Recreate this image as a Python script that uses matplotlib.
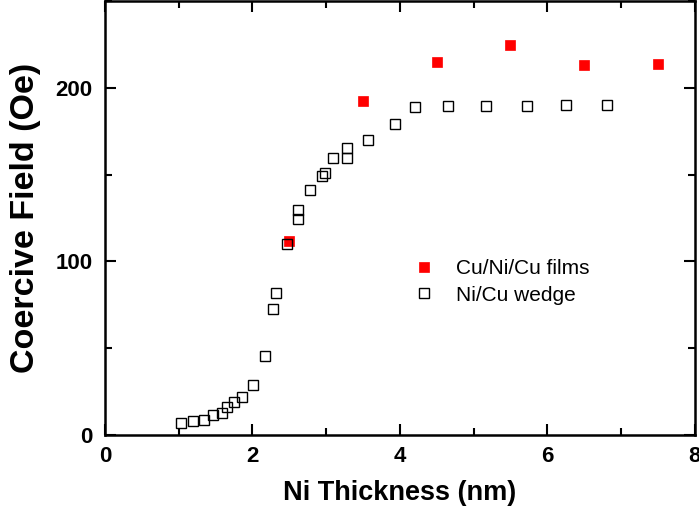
import matplotlib
matplotlib.use("Agg")
import matplotlib.pyplot as plt
from matplotlib.ticker import MultipleLocator

plt.rcParams['font.family'] = ['Liberation Sans', 'DejaVu Sans']

# Cu/Ni/Cu films (filled red squares)
films_x = [2.5, 3.5, 4.5, 5.5, 6.5, 7.5]
films_y = [111.9, 192.6, 214.6, 224.5, 213.0, 214.0]

# Ni/Cu wedge (open squares)
wedge_x = [1.03, 1.19, 1.345, 1.47, 1.585, 1.66, 1.745, 1.857, 2.01, 2.17,
           2.28, 2.32, 2.47, 2.62, 2.62, 2.78, 2.94, 2.98, 3.09, 3.28, 3.28,
           3.57, 3.93, 4.21, 4.65, 5.17, 5.73, 6.25, 6.81]
wedge_y = [6.9, 7.9, 8.8, 11.3, 12.6, 16.1, 18.8, 21.8, 28.7, 45.6,
           72.4, 81.6, 110.3, 124.5, 129.5, 141.4, 149.4, 150.7, 159.8, 165.5, 159.8,
           170.0, 179.3, 188.7, 189.3, 189.3, 189.3, 190.3, 190.3]

x_ticks = [0, 2, 4, 6, 8]
y_ticks = [0, 100, 200]

fig = plt.figure(figsize=(6.99, 5.13), dpi=100)
ax = fig.add_axes([0.150, 0.152, 0.844, 0.846])

ax.plot(films_x, films_y, linestyle='none', marker='s', markersize=6.5,
        markerfacecolor='#ff0000', markeredgecolor='#ff0000', markeredgewidth=0.5,
        label='Cu/Ni/Cu films', zorder=2)
ax.plot(wedge_x, wedge_y, linestyle='none', marker='s', markersize=6.5,
        markerfacecolor='none', markeredgecolor='black', markeredgewidth=1.0,
        label='Ni/Cu wedge', zorder=3)

ax.set_xlim(0, 8)
ax.set_ylim(0, 250)
ax.set_xticks(x_ticks)
ax.set_yticks(y_ticks)
ax.xaxis.set_minor_locator(MultipleLocator(1))
ax.yaxis.set_minor_locator(MultipleLocator(50))

for s in ax.spines.values():
    s.set_linewidth(1.8)

ax.tick_params(which='both', direction='in', top=True, right=True, width=1.5)
ax.tick_params(which='major', length=8, labelsize=16)
ax.tick_params(axis='x', which='major', pad=8)
ax.tick_params(axis='y', which='major', pad=9)
ax.tick_params(which='minor', length=5)
for lab in ax.get_xticklabels() + ax.get_yticklabels():
    lab.set_fontweight('bold')

ax.set_xlabel('Ni Thickness (nm)', fontsize=19.5, fontweight='bold', labelpad=9)
ax.set_ylabel('Coercive Field (Oe)', fontsize=24.5, fontweight='bold', labelpad=10)

leg = ax.legend(loc='upper left', bbox_to_anchor=(0.514, 0.405), frameon=False,
                fontsize=15, handlelength=1.5, handletextpad=0.8,
                labelspacing=0.35, borderaxespad=0, borderpad=0, numpoints=1)

fig.savefig('out.png', dpi=100)
